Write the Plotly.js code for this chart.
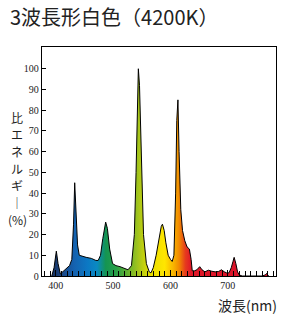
<!DOCTYPE html>
<html>
<head>
<meta charset="utf-8">
<script src="https://cdn.plot.ly/plotly-3.0.1.min.js"></script>
<style>html,body{margin:0;padding:0;background:#fff;}#chart{width:292px;height:325px;}</style>
</head>
<body>
<div id="chart"></div>
<script>
// Wavelength (nm)
const wavelength = [393, 397, 401, 404, 408, 412, 418, 424, 428, 431, 433, 435, 438, 441, 446, 453, 462, 470, 474, 478, 482, 485, 487, 490, 494, 499, 505, 512, 520, 526, 532, 537, 540, 543, 544, 546, 549, 553, 558, 563, 566, 570, 575, 580, 584, 586, 589, 592, 596, 600, 603, 606, 609, 611, 613, 615, 618, 621, 625, 629, 633, 636, 638, 642, 646, 651, 655, 660, 666, 672, 678, 684, 689, 694, 698, 702, 706, 709, 711, 714, 717, 720, 725, 760, 765, 768, 771];
// Relative energy (%)
const energy = [0, 4, 12, 6, 1, 2, 3.5, 5, 8, 25, 45, 35, 15, 10, 9.5, 9, 8.5, 7.5, 7.5, 10, 18, 24, 26, 23, 13, 6, 5, 4.5, 3.5, 3, 5, 20, 50, 90, 100, 92, 55, 20, 6, 2, 1.5, 4, 10, 18, 24, 25, 22, 16, 10, 8, 7, 10, 40, 75, 85, 60, 32, 22, 17, 14, 13, 8, 2.5, 2.5, 3, 4.5, 3, 2, 2.8, 2.3, 2, 2.2, 3, 2, 1.5, 1.5, 4, 7, 9, 6, 2, 0.5, 0, 0, 0.5, 1.2, 0];
// Colour stops by wavelength
const gradWl = [393, 410, 432, 455, 472, 487, 505, 525, 545, 565, 590, 605, 615, 626, 636, 771];
const gradColor = ['#15305f', '#1b4683', '#1562b0', '#0c78c4', '#0a8ac2', '#149452', '#27a048', '#62b030', '#a8c61a', '#e8de00', '#ffe600', '#f8b400', '#f18a00', '#e63a1e', '#e01828', '#d8102a'];
const yTicks = [0, 10, 20, 30, 40, 50, 60, 70, 80, 90, 100];
const xTicks = [400, 500, 600, 700];

const wlMin = gradWl[0], wlMax = gradWl[gradWl.length - 1];
const colorscale = gradWl.map((w, i) => [(w - wlMin) / (wlMax - wlMin), gradColor[i]]);

const trace = {
  x: wavelength, y: energy, type: 'scatter', mode: 'lines',
  line: {color: '#000', width: 1},
  fill: 'tozeroy',
  fillgradient: {type: 'horizontal', colorscale: colorscale, start: wlMin, stop: wlMax},
  hoverinfo: 'skip'
};

const plotTop = 47, plotBot = 276, plotH = plotBot - plotTop, plotL = 42, plotW = 234;
const yLabelChars = ['比', 'エ', 'ネ', 'ル', 'ギ', '｜', '(%)'];
const yLabelPix = [117, 134, 151, 168, 185, 202, 219];
const annotations = yLabelChars.map((c, i) => ({
  text: c, xref: 'paper', yref: 'paper', x: (17 - plotL) / plotW, y: (plotBot - yLabelPix[i]) / plotH,
  xanchor: 'center', yanchor: 'middle', showarrow: false,
  font: {family: 'Noto Sans CJK JP', size: 12, color: '#222'}
}));
annotations.push({
  text: '波長(nm)', xref: 'paper', yref: 'paper', x: (279 - plotL) / plotW, y: (plotBot - 305) / plotH,
  xanchor: 'right', yanchor: 'middle', showarrow: false,
  font: {family: 'Noto Sans CJK JP', size: 14, color: '#222'}
});

const tickFont = {family: 'Liberation Serif, serif', size: 10, color: '#222'};
const layout = {
  width: 292, height: 325,
  margin: {l: 42, r: 16, t: 47, b: 49},
  paper_bgcolor: '#fff', plot_bgcolor: '#fff',
  showlegend: false,
  title: {text: '3波長形白色（4200K）', x: 10 / 292, xref: 'container', xanchor: 'left',
          y: 1 - 18 / 325, yref: 'container', yanchor: 'middle',
          font: {family: 'Noto Sans CJK JP', size: 20, color: '#222'}},
  xaxis: {range: [376, 784], tickmode: 'array', tickvals: xTicks, ticks: 'inside', ticklen: 6, tickwidth: 1, tickcolor: '#000',
          minor: {dtick: 10, tick0: 400, ticks: 'inside', ticklen: 5, tickwidth: 1, tickcolor: '#000'},
          showline: true, linecolor: '#000', linewidth: 1.3, mirror: true, showgrid: false, zeroline: false,
          tickfont: tickFont, fixedrange: true},
  yaxis: {range: [0, 110.5], tickmode: 'array', tickvals: yTicks, ticks: 'inside', ticklen: 4, tickwidth: 1, tickcolor: '#000',
          showline: true, linecolor: '#000', linewidth: 1.3, mirror: true, showgrid: false, zeroline: false,
          tickfont: tickFont, fixedrange: true},
  annotations: annotations
};
Plotly.newPlot('chart', [trace], layout, {displayModeBar: false, staticPlot: true});
</script>
</body>
</html>
